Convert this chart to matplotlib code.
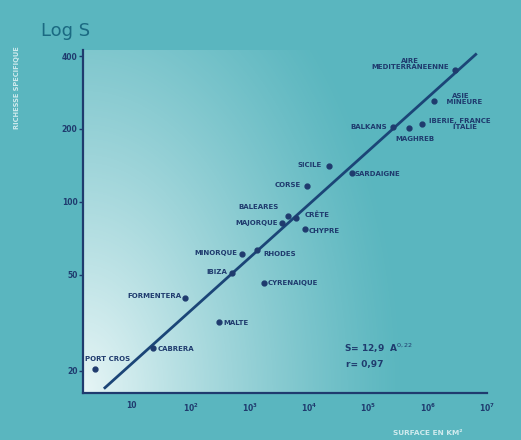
import numpy as np
import matplotlib
matplotlib.use("Agg")
import matplotlib.pyplot as plt
from matplotlib.ticker import FixedLocator, NullLocator

# surface (km2) and species richness
names = ["AIRE\nMEDITERRANEENNE", "ASIE\n   MINEURE", "IBERIE, FRANCE\n    ITALIE", "BALKANS",
         "MAGHREB", "SICILE", "SARDAIGNE", "CORSE", "BALEARES", "MAJORQUE", "CRÊTE", "CHYPRE",
         "MINORQUE", "RHODES", "IBIZA", "CYRENAIQUE", "FORMENTERA", "MALTE", "CABRERA", "PORT CROS"]
area = [2.9e6, 1.29e6, 8.1e5, 2.54e5, 4.9e5, 2.15e4, 5.2e4, 9.2e3, 4.3e3, 3.4e3, 6.0e3, 8.5e3,
        720, 1290, 490, 1690, 80, 300, 23, 2.4]
species = [350, 261, 210, 204, 202, 140, 132, 116, 87, 82, 86, 77,
           61, 63, 51, 46, 40, 32, 25, 20.4]

# fitted power law S = 12.9 A^0.22
coef = 12.9
expo = 0.22
fit_range = [10 ** 0.55, 10 ** 6.81]

yticks = [20, 50, 100, 200, 400]
yticklabels = ["20", "50", "100", "200", "400"]
xticks = [10, 1e2, 1e3, 1e4, 1e5, 1e6, 1e7]
xticklabels = ["10", "$\\mathbf{10^2}$", "$\\mathbf{10^3}$", "$\\mathbf{10^4}$",
               "$\\mathbf{10^5}$", "$\\mathbf{10^6}$", "$\\mathbf{10^7}$"]

# label offsets in pixels and alignment
label_pos = [(-6, 0, "right", "bottom"), (5, 2, "left", "center"), (7, 0, "left", "center"),
             (-6, 0, "right", "center"), (-14, -11, "left", "center"), (-7, 1, "right", "center"),
             (3, -1, "left", "center"), (-6, 1, "right", "center"), (-9, 9, "right", "center"),
             (-4, 0, "right", "center"), (8, 3, "left", "center"), (4, -2, "left", "center"),
             (-4, 1, "right", "center"), (7, -4, "left", "center"), (-4, 1, "right", "center"),
             (4, 0, "left", "center"), (-4, 2, "right", "center"), (4, -1, "left", "center"),
             (5, -1, "left", "center"), (-10, 10, "left", "center")]

teal = "#5ab6bf"
navy = "#1f3b6e"

fig = plt.figure(figsize=(5.21, 4.40), dpi=100)
fig.patch.set_facecolor(teal)
ax = fig.add_axes([83 / 521, 1 - 393 / 440, (487 - 83) / 521, (393 - 50) / 440])
ax.set_facecolor(teal)

# light glow in the lower left corner
u, v = np.meshgrid(np.linspace(0, 1, 200), np.linspace(0, 1, 200))
d = np.sqrt((u / 0.8) ** 2 + (v / 1.5) ** 2)
alpha = np.clip(1 - d, 0, 1) ** 1.2 * 0.95
glow = np.zeros((200, 200, 4))
glow[..., :3] = [0.94, 0.98, 0.98]
glow[..., 3] = alpha
ax.imshow(glow, extent=[0, 1, 0, 1], origin="lower", transform=ax.transAxes,
          aspect="auto", zorder=0, interpolation="bilinear")

ax.set_xscale("log")
ax.set_yscale("log")
ax.set_xlim(10 ** 0.18, 1e7)
ax.set_ylim(10 ** 1.21, 10 ** 2.627)

xf = np.logspace(np.log10(fit_range[0]), np.log10(fit_range[1]), 50)
ax.plot(xf, coef * xf ** expo, color="#1b4577", lw=2, zorder=2)
ax.plot(area, species, "o", ms=3.5, color=navy, zorder=3)

for n, a, s, (dx, dy, ha, va) in zip(names, area, species, label_pos):
    ax.annotate(n, (a, s), xytext=(dx, dy), textcoords="offset pixels", ha=ha, va=va,
                fontsize=5, fontweight="bold", color=navy, multialignment="center",
                linespacing=1.0, zorder=4)

for side in ["top", "right"]:
    ax.spines[side].set_visible(False)
for side in ["left", "bottom"]:
    ax.spines[side].set_color(navy)
    ax.spines[side].set_linewidth(1.6)

ax.yaxis.set_major_locator(FixedLocator(yticks))
ax.yaxis.set_minor_locator(NullLocator())
ax.set_yticklabels(yticklabels)
ax.xaxis.set_major_locator(FixedLocator(xticks))
ax.xaxis.set_minor_locator(NullLocator())
ax.set_xticklabels(xticklabels)
ax.tick_params(axis="y", length=3, width=1, color=navy, labelsize=5.5, labelcolor=navy, pad=1)
ax.tick_params(axis="x", length=0, labelsize=5.5, labelcolor=navy, pad=6)
for lb in ax.get_yticklabels() + ax.get_xticklabels():
    lb.set_fontweight("bold")

ax.text(0.645, 0.12, "S= 12,9  A$^{0,22}$", transform=ax.transAxes, fontsize=6.5,
        fontweight="bold", color=navy)
ax.text(0.65, 0.075, "r= 0,97", transform=ax.transAxes, fontsize=6.5,
        fontweight="bold", color=navy)

fig.text(41 / 521, 1 - 36 / 440, "Log S", fontsize=13, color="#1b6a82")
fig.text(17 / 521, 1 - 88 / 440, "RICHESSE SPECIFIQUE", rotation=90, ha="center", va="center",
         fontsize=4.8, fontweight="bold", color="#e4f4f6", alpha=0.85)
fig.text(428 / 521, 1 - 433 / 440, "SURFACE EN KM²", ha="center", va="center",
         fontsize=5.3, fontweight="bold", color="#e4f4f6", alpha=0.85)

fig.savefig("out.png", dpi=100, facecolor=fig.get_facecolor())
